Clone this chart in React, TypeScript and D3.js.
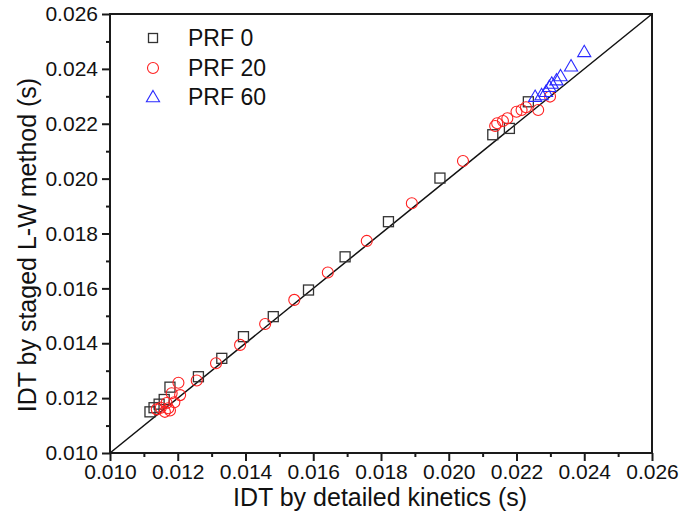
import React, { useEffect, useRef } from "react";
import * as d3 from "d3";

// IDT comparison: detailed kinetics (x) vs staged L-W method (y)
const prf0X = [0.01118, 0.0113, 0.01145, 0.0116, 0.01177, 0.01261, 0.0133, 0.01394, 0.01482, 0.01586, 0.01694, 0.01822, 0.01974, 0.0213, 0.02179, 0.02235];
const prf0Y = [0.0115, 0.01165, 0.01178, 0.01195, 0.0124, 0.01278, 0.01345, 0.01424, 0.01497, 0.01594, 0.01715, 0.01843, 0.02002, 0.0216, 0.02183, 0.0228];

const prf20X = [0.01138, 0.0115, 0.01162, 0.01172, 0.01177, 0.01167, 0.0119, 0.01182, 0.01207, 0.01202, 0.01256, 0.01313, 0.01384, 0.01458, 0.01544, 0.01643, 0.01758, 0.01891, 0.02042, 0.02137, 0.02143, 0.0216, 0.02173, 0.022, 0.02215, 0.02228, 0.02264, 0.02299];
const prf20Y = [0.01159, 0.01165, 0.0115, 0.01163, 0.01155, 0.01182, 0.01185, 0.01218, 0.01211, 0.01256, 0.01264, 0.01327, 0.01394, 0.0147, 0.01558, 0.01658, 0.01773, 0.0191, 0.02064, 0.02192, 0.02202, 0.0221, 0.0222, 0.02244, 0.0225, 0.0226, 0.0225, 0.02299];

const prf60X = [0.02255, 0.02274, 0.02287, 0.02297, 0.02304, 0.02318, 0.0233, 0.02361, 0.024];
const prf60Y = [0.02299, 0.02305, 0.02317, 0.02335, 0.02347, 0.02359, 0.02374, 0.0241, 0.02462];

const seriesNames = ["PRF 0", "PRF 20", "PRF 60"];
const axisMin = 0.01;
const axisMax = 0.026;
const majorTicks = [0.01, 0.012, 0.014, 0.016, 0.018, 0.02, 0.022, 0.024, 0.026];
const minorTicks = [0.011, 0.013, 0.015, 0.017, 0.019, 0.021, 0.023, 0.025];
const xTitle = "IDT by detailed kinetics (s)";
const yTitle = "IDT by staged L-W method (s)";

const W = 683;
const H = 520;
const M = { left: 110, right: 31, top: 14, bottom: 67 };
const FONT = "'Liberation Sans', Arial, sans-serif";

export default function App() {
  const ref = useRef<SVGSVGElement | null>(null);

  useEffect(() => {
    const svg = d3.select(ref.current);
    svg.selectAll("*").remove();

    const x = d3.scaleLinear().domain([axisMin, axisMax]).range([M.left, W - M.right]);
    const y = d3.scaleLinear().domain([axisMin, axisMax]).range([H - M.bottom, M.top]);

    svg.append("rect").attr("width", W).attr("height", H).attr("fill", "#ffffff");

    // parity line
    svg.append("line")
      .attr("x1", x(axisMin)).attr("y1", y(axisMin))
      .attr("x2", x(axisMax)).attr("y2", y(axisMax))
      .attr("stroke", "#111").attr("stroke-width", 1.5);

    const g = svg.append("g");

    // PRF 0: open squares
    const sq = 10;
    g.selectAll("rect.p0").data(d3.range(prf0X.length)).enter().append("rect")
      .attr("x", (i) => x(prf0X[i]) - sq / 2)
      .attr("y", (i) => y(prf0Y[i]) - sq / 2)
      .attr("width", sq).attr("height", sq)
      .attr("fill", "none").attr("stroke", "#333").attr("stroke-width", 1.3);

    // PRF 20: open circles
    g.selectAll("circle.p20").data(d3.range(prf20X.length)).enter().append("circle")
      .attr("cx", (i) => x(prf20X[i]))
      .attr("cy", (i) => y(prf20Y[i]))
      .attr("r", 5.5)
      .attr("fill", "none").attr("stroke", "#ff2020").attr("stroke-width", 1.1);

    // PRF 60: open triangles
    const tri = d3.symbol().type(d3.symbolTriangle).size(75);
    g.selectAll("path.p60").data(d3.range(prf60X.length)).enter().append("path")
      .attr("d", tri)
      .attr("transform", (i) => `translate(${x(prf60X[i])},${y(prf60Y[i]) + 1})`)
      .attr("fill", "none").attr("stroke", "#2a2aff").attr("stroke-width", 1.1);

    // frame
    svg.append("rect")
      .attr("x", M.left).attr("y", M.top)
      .attr("width", W - M.left - M.right).attr("height", H - M.top - M.bottom)
      .attr("fill", "none").attr("stroke", "#1a1a1a").attr("stroke-width", 2);

    // bottom axis
    const xAxis = d3.axisBottom(x).tickValues(majorTicks).tickSize(8).tickPadding(3)
      .tickFormat((d) => d3.format(".3f")(d as number));
    const gx = svg.append("g").attr("transform", `translate(0,${H - M.bottom})`).call(xAxis);
    gx.select(".domain").remove();
    gx.selectAll(".tick line").attr("stroke", "#1a1a1a").attr("stroke-width", 2);
    gx.selectAll(".tick text").attr("font-family", FONT).attr("font-size", 21).attr("fill", "#111");
    const gxm = svg.append("g").attr("transform", `translate(0,${H - M.bottom})`)
      .call(d3.axisBottom(x).tickValues(minorTicks).tickSize(4).tickFormat(() => ""));
    gxm.select(".domain").remove();
    gxm.selectAll(".tick line").attr("stroke", "#1a1a1a").attr("stroke-width", 2);

    // left axis
    const yAxis = d3.axisLeft(y).tickValues(majorTicks).tickSize(8).tickPadding(4)
      .tickFormat((d) => d3.format(".3f")(d as number));
    const gy = svg.append("g").attr("transform", `translate(${M.left},0)`).call(yAxis);
    gy.select(".domain").remove();
    gy.selectAll(".tick line").attr("stroke", "#1a1a1a").attr("stroke-width", 2);
    gy.selectAll(".tick text").attr("font-family", FONT).attr("font-size", 21).attr("fill", "#111");
    const gym = svg.append("g").attr("transform", `translate(${M.left},0)`)
      .call(d3.axisLeft(y).tickValues(minorTicks).tickSize(4).tickFormat(() => ""));
    gym.select(".domain").remove();
    gym.selectAll(".tick line").attr("stroke", "#1a1a1a").attr("stroke-width", 2);

    // axis titles
    svg.append("text")
      .attr("x", 380).attr("y", 506)
      .attr("text-anchor", "middle").attr("font-family", FONT).attr("font-size", 25).attr("fill", "#111")
      .text(xTitle);
    svg.append("text")
      .attr("transform", `translate(36,245) rotate(-90)`)
      .attr("text-anchor", "middle").attr("font-family", FONT).attr("font-size", 25).attr("fill", "#111")
      .text(yTitle);

    // legend
    const lx = 153;
    const ly = [38, 68, 97];
    const leg = svg.append("g");
    leg.append("rect").attr("x", lx - 4.5).attr("y", ly[0] - 4.5).attr("width", 9).attr("height", 9)
      .attr("fill", "none").attr("stroke", "#333").attr("stroke-width", 1.3);
    leg.append("circle").attr("cx", lx).attr("cy", ly[1]).attr("r", 5.5)
      .attr("fill", "none").attr("stroke", "#ff2020").attr("stroke-width", 1.1);
    leg.append("path").attr("d", tri).attr("transform", `translate(${lx},${ly[2] + 1})`)
      .attr("fill", "none").attr("stroke", "#2a2aff").attr("stroke-width", 1.1);
    seriesNames.forEach((name, i) => {
      leg.append("text").attr("x", 188).attr("y", ly[i] + 8)
        .attr("font-family", FONT).attr("font-size", 23).attr("fill", "#111").text(name);
    });
  }, []);

  return (
    <svg
      ref={ref}
      width={W}
      height={H}
      style={{ position: "absolute", left: 0, top: 0, display: "block" }}
    />
  );
}
